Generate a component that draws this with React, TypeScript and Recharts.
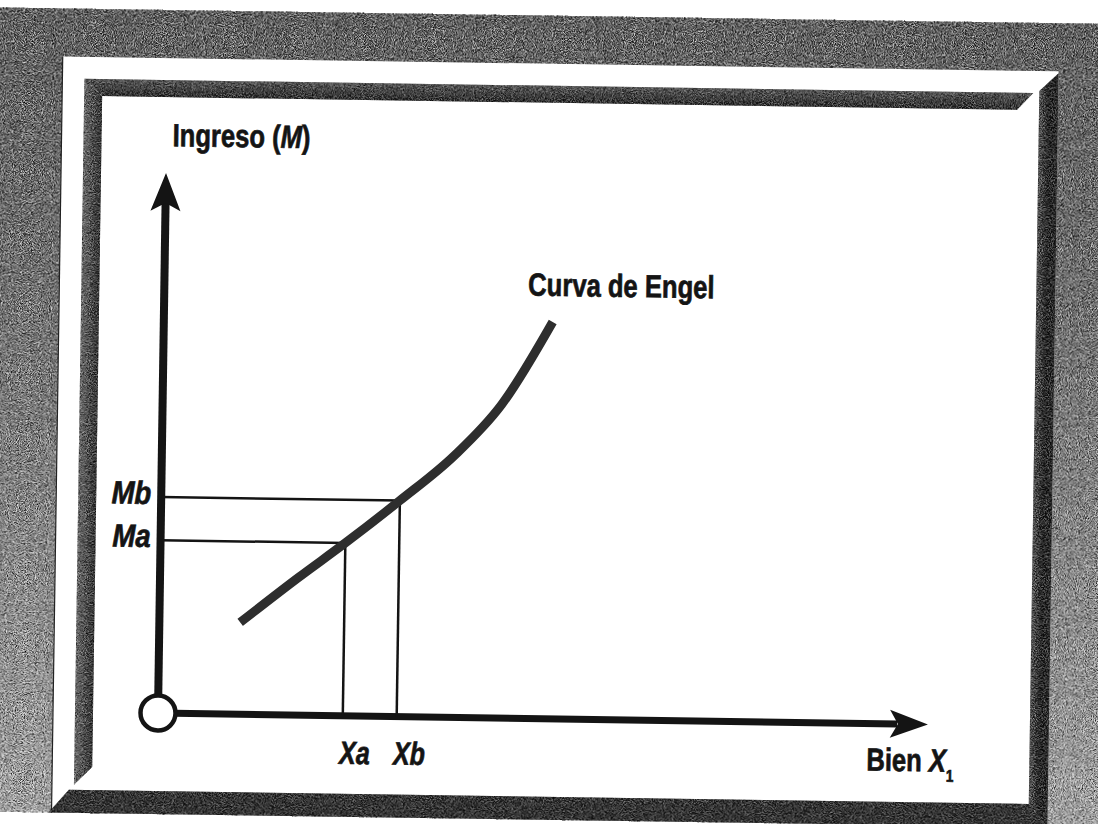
import React from "react";
import { ComposedChart, Line, XAxis, YAxis, ReferenceLine, ReferenceDot, Label } from "recharts";

// Engel curve (good X1 on x, income M on y, 0..100 scale)
const engelGood = [10.5, 18, 24, 31, 38, 44, 50.5];
const engelIncome = [17, 25.5, 32, 40, 48.5, 58, 73.5];

const goodTicks = [24, 31];
const goodTickLabels = ["Xa", "Xb"];
const incomeTicks = [32, 40];
const incomeTickLabels = ["Ma", "Mb"];

const axisMax = 100;

const data = engelGood.map((x, i) => ({ x, y: engelIncome[i] }));

const W = 1098;
const H = 824;
const FONT = "'Liberation Sans', Arial, sans-serif";
const INK = "#141414";

// condensed heavy text: Liberation Sans Bold squeezed horizontally
const Narrow = ({ x, y, size = 32, sx = 0.8, anchor = "start", italic = false, children }: any) => (
  <text
    transform={`translate(${x},${y}) scale(${sx},1)`}
    textAnchor={anchor}
    fontFamily={FONT}
    fontWeight={700}
    fontStyle={italic ? "italic" : "normal"}
    fontSize={size}
    fill={INK}
    stroke={INK}
    strokeWidth={0.7}
  >
    {children}
  </text>
);

function GoodTick({ x, y, payload }: any) {
  const i = goodTicks.indexOf(payload.value);
  return (
    <Narrow x={x - 3} y={y + 40} size={32} sx={0.78} italic>
      {goodTickLabels[i]}
    </Narrow>
  );
}

function IncomeTick({ x, y, payload }: any) {
  const i = incomeTicks.indexOf(payload.value);
  return (
    <Narrow x={x - 2} y={y + 7} size={32} sx={0.86} anchor="end" italic>
      {incomeTickLabels[i]}
    </Narrow>
  );
}

const ArrowRight = ({ cx, cy }: any) => (
  <polygon points={`${cx},${cy} ${cx - 38},${cy - 14} ${cx - 30},${cy} ${cx - 38},${cy + 14}`} fill={INK} />
);
const ArrowUp = ({ cx, cy }: any) => (
  <polygon points={`${cx},${cy} ${cx - 15},${cy + 38} ${cx},${cy + 30} ${cx + 15},${cy + 38}`} fill={INK} />
);
const NoDot = () => <g />;

const center = (vb: any) => ({ cx: vb.x + vb.width / 2, cy: vb.y + vb.height / 2 });

const IngresoLabel = ({ viewBox }: any) => {
  const { cx, cy } = center(viewBox);
  return (
    <Narrow x={cx + 6} y={cy - 27}>
      Ingreso (<tspan fontStyle="italic">M</tspan>)
    </Narrow>
  );
};

const BienLabel = ({ viewBox }: any) => {
  const { cx, cy } = center(viewBox);
  return (
    <Narrow x={cx - 61} y={cy + 47}>
      Bien <tspan fontStyle="italic">X</tspan>
      <tspan fontSize={17} dy={10}>1</tspan>
    </Narrow>
  );
};

const CurvaLabel = ({ viewBox }: any) => {
  const { cx, cy } = center(viewBox);
  return (
    <Narrow x={cx - 25} y={cy - 26}>
      Curva de Engel
    </Narrow>
  );
};

function Frame() {
  return (
    <svg width={W} height={H} style={{ position: "absolute", left: 0, top: 0, overflow: "visible" }}>
      <defs>
        <linearGradient id="bg" x1="0" y1="0" x2="0" y2="1">
          <stop offset="0%" stopColor="#505050" />
          <stop offset="35%" stopColor="#6a6a6a" />
          <stop offset="100%" stopColor="#bcbcbc" />
        </linearGradient>
        <linearGradient id="topBevel" x1="0" y1="0" x2="0" y2="1">
          <stop offset="0%" stopColor="#5a5a5a" />
          <stop offset="100%" stopColor="#1e1e1e" />
        </linearGradient>
        <linearGradient id="leftBevel" x1="0" y1="0" x2="1" y2="0">
          <stop offset="0%" stopColor="#7a7a7a" />
          <stop offset="100%" stopColor="#222" />
        </linearGradient>
        <linearGradient id="rightBevel" x1="0" y1="0" x2="1" y2="0">
          <stop offset="0%" stopColor="#555" />
          <stop offset="55%" stopColor="#101010" />
          <stop offset="100%" stopColor="#1c1c1c" />
        </linearGradient>
        <filter id="grainDark" x="0" y="0" width="100%" height="100%">
          <feTurbulence type="fractalNoise" baseFrequency="1.1" numOctaves="1" seed="4" result="n" />
          <feColorMatrix in="n" type="matrix" values="0 0 0 0 0  0 0 0 0 0  0 0 0 0 0  2.6 0 0 0 -1.0" />
        </filter>
        <filter id="grainLight" x="0" y="0" width="100%" height="100%">
          <feTurbulence type="fractalNoise" baseFrequency="1.1" numOctaves="1" seed="9" result="n" />
          <feColorMatrix in="n" type="matrix" values="0 0 0 0 1  0 0 0 0 1  0 0 0 0 1  2.4 0 0 0 -1.0" />
        </filter>
        <clipPath id="bevels">
          <polygon points="75,80 1024,80 1008,97 93,97" />
          <polygon points="75,80 93,97 93,768 75,786" />
          <polygon points="1049,60 1030,78 1030,791 1049,814" />
          <polygon points="70,791 1030,791 1049,814 50,814" />
        </clipPath>
      </defs>
      <rect x={-60} y={10} width={1240} height={804} fill="url(#bg)" />
      <rect x={-60} y={10} width={1240} height={804} filter="url(#grainDark)" />
      <rect x={-60} y={10} width={1240} height={804} filter="url(#grainLight)" />
      <rect x={53} y={58} width={996} height={756} fill="#fff" />
      <line x1={53} y1={58} x2={53} y2={814} stroke="#222" strokeWidth={1.2} />
      <polygon points="75,80 1024,80 1008,97 93,97" fill="url(#topBevel)" />
      <polygon points="75,80 93,97 93,768 75,786" fill="url(#leftBevel)" />
      <polygon points="1049,60 1030,78 1030,791 1049,814" fill="url(#rightBevel)" />
      <polygon points="70,791 1030,791 1049,814 50,814" fill="#262626" />
      <rect x={40} y={60} width={1020} height={760} filter="url(#grainDark)" clipPath="url(#bevels)" />
      <rect x={40} y={60} width={1020} height={760} filter="url(#grainLight)" clipPath="url(#bevels)" opacity={0.6} />
    </svg>
  );
}

export default function App() {
  return (
    <div style={{ position: "absolute", left: 0, top: 0, width: W, height: H, overflow: "hidden", background: "#fff" }}>
      <div style={{ position: "absolute", left: 0, top: 0, width: W, height: H, transform: "rotate(0.85deg)", transformOrigin: "158px 713px" }}>
        <Frame />
        <div style={{ position: "absolute", left: 0, top: 0 }}>
          <ComposedChart width={W} height={H} data={data} margin={{ top: 173, right: 170, bottom: 81, left: 98 }}>
            <XAxis
              type="number"
              dataKey="x"
              domain={[0, axisMax]}
              ticks={goodTicks}
              tick={GoodTick}
              axisLine={false}
              tickLine={false}
              height={30}
            />
            <YAxis
              type="number"
              domain={[0, axisMax]}
              ticks={incomeTicks}
              tick={IncomeTick}
              axisLine={false}
              tickLine={false}
              width={60}
            />
            {/* axes */}
            <ReferenceLine ifOverflow="visible" segment={[{ x: 0, y: 0 }, { x: 96, y: 0 }]} stroke={INK} strokeWidth={7} />
            <ReferenceLine ifOverflow="visible" segment={[{ x: 0, y: 0 }, { x: 0, y: 95 }]} stroke={INK} strokeWidth={8} />
            {/* guide lines */}
            {incomeTicks.map((m, i) => (
              <ReferenceLine
                key={`h${i}`}
                ifOverflow="visible"
                segment={[{ x: 0, y: m }, { x: goodTicks[i], y: m }]}
                stroke={INK}
                strokeWidth={2.5}
              />
            ))}
            {goodTicks.map((g, i) => (
              <ReferenceLine
                key={`v${i}`}
                ifOverflow="visible"
                segment={[{ x: g, y: incomeTicks[i] }, { x: g, y: 0 }]}
                stroke={INK}
                strokeWidth={2.5}
              />
            ))}
            <Line
              type="monotone"
              dataKey="y"
              stroke="#2e2e2e"
              strokeWidth={9}
              dot={false}
              activeDot={false}
              isAnimationActive={false}
            />
            <ReferenceDot ifOverflow="visible" x={axisMax} y={0} r={15} shape={ArrowRight}>
              <Label content={BienLabel} />
            </ReferenceDot>
            <ReferenceDot ifOverflow="visible" x={0} y={axisMax} r={15} shape={ArrowUp}>
              <Label content={IngresoLabel} />
            </ReferenceDot>
            <ReferenceDot
              ifOverflow="visible"
              x={engelGood[engelGood.length - 1]}
              y={engelIncome[engelIncome.length - 1]}
              r={1}
              shape={NoDot}
            >
              <Label content={CurvaLabel} />
            </ReferenceDot>
            <ReferenceDot ifOverflow="visible" x={0} y={0} r={17.5} fill="#fff" stroke={INK} strokeWidth={4.5} />
          </ComposedChart>
        </div>
      </div>
    </div>
  );
}
